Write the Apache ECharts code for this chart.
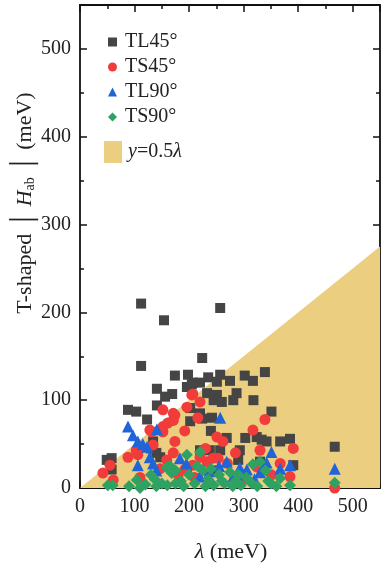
<!DOCTYPE html>
<html>
<head>
<meta charset="utf-8">
<script src="https://cdn.jsdelivr.net/npm/echarts@6/dist/echarts.min.js"></script>
<style>
  html, body { margin: 0; padding: 0; background: #fff; }
  #main { width: 383px; height: 565px; }
</style>
</head>
<body>
<div id="main"></div>
<script>
// lambda (meV), |Hab| (meV)
var tl45 = [[112,210],[154,191],[257,205],[112,139],[224,148],[339,132],[317,122],[235,126],[257,129],[275,122],
  [302,128],[174,128],[198,129],[207,120],[196,115],[141,113],[169,107],[156,104],[88,89],[103,87],[123,78],
  [141,94],[205,118],[220,120],[202,91],[220,85],[202,76],[224,79],[242,80],[233,108],[251,106],[260,98],
  [281,100],[287,108],[318,100],[351,87],[251,121],[303,57],[324,58],[333,55],[342,53],[367,53],[385,56],
  [293,43],[290,32],[269,57],[467,47],[391,26],[196,21],[147,35],[134,53],[220,43],[238,43],[257,43],
  [49,32],[58,34],[58,21],[130,45],[140,40],[250,20],[330,30],[240,65],[245,100]];
var ts45 = [[152,89],[171,85],[207,107],[220,98],[196,92],[216,80],[171,77],[161,74],[152,70],[128,66],
  [152,64],[192,65],[174,53],[171,40],[134,49],[103,43],[88,35],[106,38],[55,26],[42,17],[61,9],[251,58],
  [262,53],[317,66],[339,78],[330,43],[391,45],[220,35],[233,30],[244,34],[207,26],[192,21],[159,32],
  [147,22],[367,28],[385,13],[351,15],[324,24],[467,0],[205,106],[174,83],[132,64],[105,41],[253,34],
  [270,28],[180,15],[210,12],[110,12],[285,40],[300,10],[230,45]];
var tl90 = [[88,70],[97,60],[106,53],[123,47],[141,67],[257,80],[128,35],[134,28],[106,26],[183,34],
  [351,41],[385,26],[367,22],[342,29],[269,30],[293,23],[306,21],[467,22],[226,21],[238,19],[330,18],
  [281,13],[220,13],[115,50],[140,20],[300,15],[255,25],[195,28],[320,10]];
var ts90 = [[220,41],[196,38],[159,23],[168,17],[317,27],[330,30],[367,11],[385,3],[467,6],[104,9],[51,3],
  [60,3],[137,10],[150,5],[165,25],[175,20],[185,8],[200,15],[210,5],[225,20],[235,10],[245,3],[255,15],
  [265,5],[275,18],[285,8],[295,3],[305,12],[315,5],[340,20],[350,5],[90,2],[120,4],[130,15],[160,3],
  [190,2],[230,2],[260,8],[290,15],[325,2],[345,8],[360,2],[175,5],[215,25],[240,22],[280,2],[110,0],[140,2]];
var limitLine = [[0,0],[550,275]];   // y = 0.5 * lambda

var serif = '"Liberation Serif", "DejaVu Serif", serif';
var gridBox = { left: 80, right: 3, top: 5, bottom: 77 };

function majorAxis(pos, labels) {
  return {
    type: 'value', gridIndex: 0, position: pos, min: 0, max: 550, interval: 100,
    axisLine: { show: true, onZero: false, lineStyle: { color: '#111', width: 1.8 } },
    axisTick: { show: true, inside: true, length: 7, lineStyle: { color: '#111', width: 1.5 } },
    axisLabel: { show: labels, showMaxLabel: false, margin: 9, color: '#222', fontSize: 20, fontFamily: serif },
    splitLine: { show: false }
  };
}
function minorAxis(pos) {
  return {
    type: 'value', gridIndex: 1, position: pos, min: 0, max: 550, interval: 50,
    axisLine: { show: false, onZero: false },
    axisTick: { show: true, inside: true, length: 4, lineStyle: { color: '#111', width: 1.5 } },
    axisLabel: { show: false }, splitLine: { show: false }
  };
}

var chart = echarts.init(document.getElementById('main'));
chart.setOption({
  animation: false,
  backgroundColor: '#fff',
  grid: [gridBox, gridBox],
  xAxis: [majorAxis('bottom', true), majorAxis('top', false), minorAxis('bottom'), minorAxis('top')],
  yAxis: [majorAxis('left', true), majorAxis('right', false), minorAxis('left'), minorAxis('right')],
  legend: [{
    orient: 'vertical', left: 103, top: 27, itemGap: 5, itemWidth: 9, itemHeight: 9,
    data: [
      { name: 'TL45°', icon: 'rect' },
      { name: 'TS45°', icon: 'circle' },
      { name: 'TL90°', icon: 'triangle' },
      { name: 'TS90°', icon: 'diamond' }
    ],
    textStyle: { fontSize: 20, fontFamily: serif, color: '#222', padding: [0, 0, 0, 3] }
  }, {
    orient: 'vertical', left: 99, top: 136, itemWidth: 18, itemHeight: 22,
    data: [{ name: 'y=0.5λ', icon: 'rect' }],
    formatter: function () { return '{i|y}=0.5{i|λ}'; },
    textStyle: {
      fontSize: 20, fontFamily: serif, color: '#222', padding: [0, 0, 0, 1],
      rich: { i: { fontStyle: 'italic', fontSize: 20, fontFamily: serif, color: '#222' } }
    }
  }],
  series: [
    {
      name: 'y=0.5λ', type: 'line', data: limitLine, symbol: 'none', z: 1,
      lineStyle: { width: 0, color: '#ecce80' }, itemStyle: { color: '#ecce80' },
      areaStyle: { color: '#ecce80', opacity: 1 }
    },
    { name: 'TL45°', type: 'scatter', data: tl45, symbol: 'rect', symbolSize: 10,
      itemStyle: { color: '#454545', opacity: 1 }, z: 2 },
    { name: 'TS45°', type: 'scatter', data: ts45, symbol: 'circle', symbolSize: 11,
      itemStyle: { color: '#f23b3b', opacity: 1 }, z: 3 },
    { name: 'TL90°', type: 'scatter', data: tl90, symbol: 'triangle', symbolSize: 12,
      itemStyle: { color: '#2064d8', opacity: 1 }, z: 4 },
    { name: 'TS90°', type: 'scatter', data: ts90, symbol: 'diamond', symbolSize: 12,
      itemStyle: { color: '#2fa263', opacity: 1 }, z: 5 }
  ],
  graphic: [
    {
      type: 'text', x: 25, y: 203, rotation: Math.PI / 2,
      style: {
        text: 'T-shaped {b|│}{i|H}{s|ab}{b|│} (meV)',
        font: '22px ' + serif, fill: '#222', align: 'center', verticalAlign: 'middle',
        rich: {
          i: { fontStyle: 'italic', fontSize: 22, fontFamily: serif, fill: '#222', padding: [0, 0, 0, 5] },
          s: { fontSize: 14, fontFamily: serif, fill: '#222', verticalAlign: 'bottom', padding: [9, 5, 0, 0] },
          b: { fontSize: 24, fontFamily: serif, fill: '#222' }
        }
      }
    },
    {
      type: 'text', x: 231, y: 552,
      style: {
        text: '{i|λ} (meV)', font: '22px ' + serif, fill: '#222', align: 'center', verticalAlign: 'middle',
        rich: { i: { fontStyle: 'italic', fontSize: 22, fontFamily: serif, fill: '#222' } }
      }
    }
  ]
});
</script>
</body>
</html>
